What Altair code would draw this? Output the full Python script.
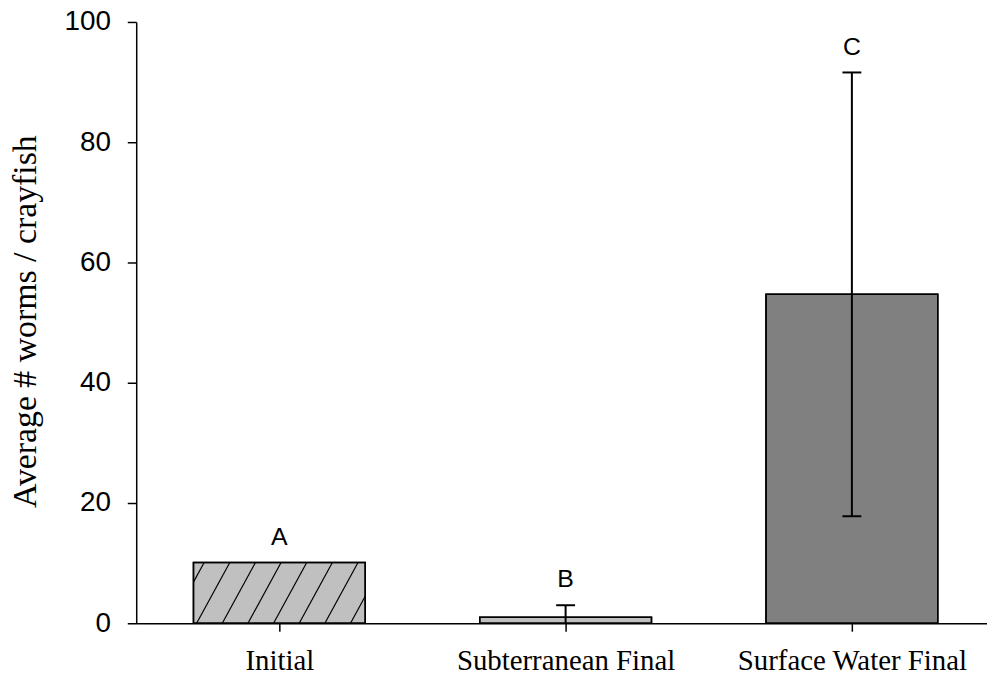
import json
import altair as alt
import pandas as pd

# ---- data ----
categories = ["Initial", "Subterranean Final", "Surface Water Final"]
means = [10.1, 1.0, 54.7]
errors = [0.0, 2.0, 36.9]
letters = ["A", "B", "C"]
fills = ["#c0c0c0", "#c0c0c0", "#808080"]
hatched = [True, False, False]
y_ticks = [0, 20, 40, 60, 80, 100]

# ---- layout / style ----
W, H = 856, 605
X_MIN, X_MAX = -0.5, 2.472
Y_MAX = 100
BAR_HALF = 0.3
CAP_HALF = 0.033
px_x = W / (X_MAX - X_MIN)
px_y = H / Y_MAX
SERIF = "Times New Roman, Liberation Serif, serif"
SANS = "Arial, Liberation Sans, sans-serif"

df = pd.DataFrame({
    "pos": list(range(len(categories))),
    "cat": categories,
    "mean": means,
    "err": errors,
    "letter": letters,
    "fill": fills,
})
df["lo"] = df["mean"] - df["err"]
df["hi"] = df["mean"] + df["err"]
df["x1"] = df["pos"] - BAR_HALF
df["x2"] = df["pos"] + BAR_HALF
df["c1"] = df["pos"] - CAP_HALF
df["c2"] = df["pos"] + CAP_HALF
df["zero"] = 0.0

# hatch segments ("/" lines) clipped to the hatched bar(s)
HATCH_SPACING_PX = 25.8
HATCH_RUN_PER_RISE = 0.546
HATCH_OFFSET_PX = 3.2
seg = []
for i, h in enumerate(hatched):
    if not h:
        continue
    xl, xr, top = df.x1[i], df.x2[i], df["mean"][i]
    s = HATCH_RUN_PER_RISE * px_y / px_x
    dx = HATCH_SPACING_PX / px_x
    for k in range(-30, 30):
        xb = xl + HATCH_OFFSET_PX / px_x + k * dx
        v0 = max(0.0, (xl - xb) / s)
        v1 = min(top, (xr - xb) / s)
        if v1 - v0 > 1e-6:
            seg.append({"hx": xb + s * v0, "hy": v0, "hx2": xb + s * v1, "hy2": v1})
hatch_df = pd.DataFrame(seg)

xscale = alt.Scale(domain=[X_MIN, X_MAX], nice=False, zero=False)
yscale = alt.Scale(domain=[0, Y_MAX], nice=False)

label_expr = json.dumps(categories) + "[datum.value]"
xaxis = alt.Axis(values=[0, 1, 2], labelExpr=label_expr, title=None,
                 labelFont=SERIF, labelFontSize=29, tickSize=8, labelPadding=16)
yaxis = alt.Axis(values=y_ticks, title="Average # worms / crayfish",
                 labelFont=SANS, labelFontSize=28, tickSize=9, labelPadding=17,
                 titleFont=SERIF, titleFontSize=34, titleFontWeight="normal",
                 titleColor="black", titleAngle=-90, titleX=-101, titleY=301,
                 titleAlign="center", titleBaseline="alphabetic")


def X(f):
    return alt.X(f, type="quantitative", scale=xscale, axis=xaxis)


def Y(f):
    return alt.Y(f, type="quantitative", scale=yscale, axis=yaxis)


base = alt.Chart(df)

bars = base.mark_bar(stroke="black", strokeWidth=1.5).encode(
    x=X("x1"), x2="x2:Q", y=Y("mean"), y2="zero:Q",
    fill=alt.Fill("fill:N", scale=None),
)

hatch = alt.Chart(hatch_df).mark_rule(color="black", strokeWidth=1.2).encode(
    x=X("hx"), x2="hx2:Q", y=Y("hy"), y2="hy2:Q"
)

outline = base.mark_bar(fillOpacity=0, stroke="black", strokeWidth=1.5).encode(
    x=X("x1"), x2="x2:Q", y=Y("mean"), y2="zero:Q"
)

err_df = base.transform_filter("datum.err > 0")
whisk = err_df.mark_rule(color="black", strokeWidth=2, clip=True).encode(
    x=X("pos"), y=Y("lo"), y2="hi:Q"
)
cap_hi = err_df.mark_rule(color="black", strokeWidth=2).encode(
    x=X("c1"), x2="c2:Q", y=Y("hi")
)
cap_lo = err_df.transform_filter("datum.lo >= 0").mark_rule(color="black", strokeWidth=2).encode(
    x=X("c1"), x2="c2:Q", y=Y("lo")
)

text = base.mark_text(font=SANS, fontSize=25, baseline="alphabetic",
                      dy=-18, color="black").encode(
    x=X("pos"), y=Y("hi"), text="letter:N"
)

chart = alt.layer(bars, hatch, outline, whisk, cap_hi, cap_lo, text).properties(
    width=W, height=H,
    autosize=alt.AutoSizeParams(type="none"),
    padding={"left": 129, "top": 12, "right": 0, "bottom": 50},
    background="white",
).configure_view(stroke=None).configure_axis(
    grid=False, domainColor="black", tickColor="black", domainWidth=1.5,
    tickWidth=1.5, labelColor="black", labelFlush=False, labelOverlap=False,
    labelLimit=0,
)

chart.save("out.html", embed_options={"renderer": "svg", "actions": False})
